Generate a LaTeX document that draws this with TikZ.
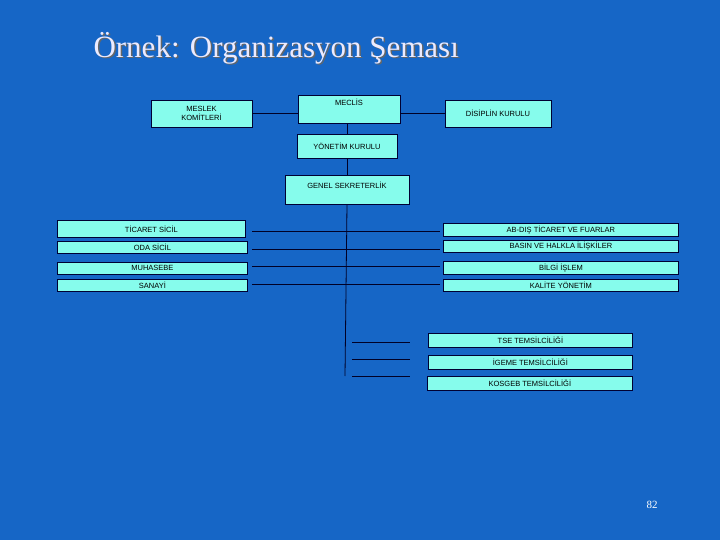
\documentclass[tikz,border=0pt]{standalone}
\usepackage{fontspec}
\setmainfont{Liberation Serif}
\newfontfamily\boxfont{Liberation Sans}
\begin{document}
\begin{tikzpicture}[x=1pt,y=-1pt,
  bx/.style={draw=black!80!blue,line width=0.8pt,fill=aqua,inner sep=0pt,font=\boxfont\fontsize{7.5}{8.5}\selectfont,align=center},
  ln/.style={draw=black!85!blue,line width=0.8pt}]
\definecolor{bg}{HTML}{1666C6}
\definecolor{aqua}{HTML}{86FCEC}
\fill[bg] (0,0) rectangle (720,540);
\useasboundingbox (0,0) rectangle (720,540);
\node[text=black!60,font=\fontsize{31}{34}\selectfont,anchor=west] (ts) at (91.5,49.5) {Örnek: Organizasyon Şeması};
\node[text=white!92!blue,font=\fontsize{31}{34}\selectfont,anchor=west] (title) at (90,48) {Örnek: Organizasyon Şeması};
\node[text=white,font=\fontsize{11}{12}\selectfont] (pg) at (652,505) {82};
% top boxes
\node[bx,minimum width=101,minimum height=27] (mk) at (201.5,113.5) {MESLEK\\KOMİTLERİ};
\node[bx,minimum width=102,anchor=north,text height=10pt,text depth=18pt] (mc) at (349,95) {MECLİS};
\node[bx,minimum width=106,minimum height=27] (dk) at (498,113.5) {DİSİPLİN KURULU};
\node[bx,minimum width=100,minimum height=24] (yk) at (347,146) {YÖNETİM KURULU};
\node[bx,minimum width=124,anchor=north,text height=13pt,text depth=16pt] (gs) at (347,175) {GENEL SEKRETERLİK};
\draw[ln] (mk) -- (mk -| mc.west);
\draw[ln] (mc.east |- dk) -- (dk);
\draw[ln] (yk.north) -- (yk.north |- mc.south);
\draw[ln] (yk) -- (gs);
\coordinate (vend) at (345,376);
\draw[ln] (gs.south) -- (vend);
% left boxes
\node[bx,minimum width=188,minimum height=17,anchor=north west] (tc) at (57,220) {TİCARET SİCİL};
\node[bx,minimum width=190,minimum height=12,anchor=north west] (os) at (57,241) {ODA SİCİL};
\node[bx,minimum width=190,minimum height=12,anchor=north west] (mu) at (57,262) {MUHASEBE};
\node[bx,minimum width=190,minimum height=12,anchor=north west] (sa) at (57,279) {SANAYİ};
% right boxes
\node[bx,minimum width=235,minimum height=13,anchor=north west] (ab) at (443,223) {AB-DIŞ TİCARET VE FUARLAR};
\node[bx,minimum width=235,minimum height=12,anchor=north west] (bh) at (443,240) {BASIN VE HALKLA İLİŞKİLER};
\node[bx,minimum width=235,minimum height=13,anchor=north west] (bi) at (443,261) {BİLGİ İŞLEM};
\node[bx,minimum width=235,minimum height=12,anchor=north west] (kl) at (443,279) {KALİTE YÖNETİM};
\foreach \a/\b/\y in {tc/ab/231, os/bh/249, mu/bi/266, sa/kl/284}{
  \coordinate (l\a) at (252,\y); \coordinate (r\a) at (440,\y);
  \draw[ln] (l\a) -- (r\a);}
% lower boxes
\node[bx,minimum width=204,minimum height=14,anchor=north west] (tse) at (428,333) {TSE TEMSİLCİLİĞİ};
\node[bx,minimum width=204,minimum height=14,anchor=north west] (ig) at (428,355) {İGEME TEMSİLCİLİĞİ};
\node[bx,minimum width=205,minimum height=14,anchor=north west] (ko) at (427,376) {KOSGEB TEMSİLCİLİĞİ};
\foreach \n/\y in {a/342, b/359, c/376}{
  \coordinate (s\n) at (352,\y); \coordinate (e\n) at (410,\y);
  \draw[ln] (s\n) -- (e\n);}
\end{tikzpicture}
\end{document}
